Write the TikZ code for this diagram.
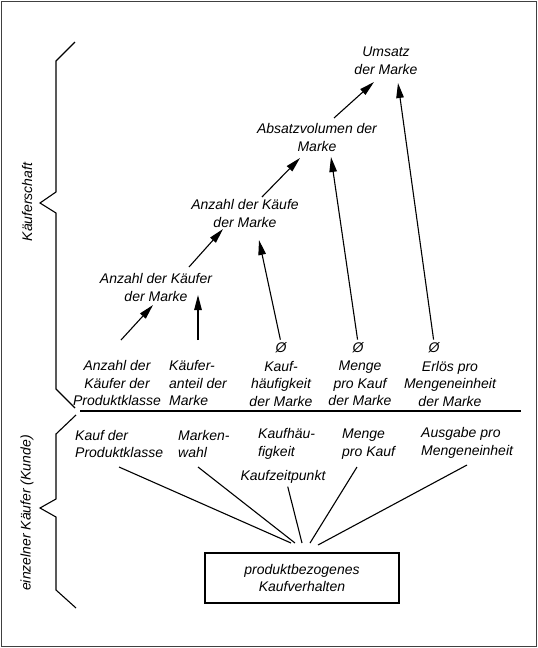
\documentclass[tikz,border=0pt]{standalone}
\usepackage{fontspec}
\setmainfont{Liberation Sans}
\usetikzlibrary{arrows.meta}
\begin{document}
\begin{tikzpicture}[x=1pt,y=-1pt,
  lbl/.style={font=\fontsize{14}{17.5}\selectfont\itshape, inner sep=0pt, align=center},
  lbll/.style={lbl, align=left, anchor=west},
  arr/.style={line width=1.1pt, -{Triangle[length=15pt,width=7.5pt]}},
  ln/.style={line width=1.1pt},
  brace/.style={line width=1.1pt, line join=miter}]
\useasboundingbox (0,0) rectangle (538,648);
\draw[line width=1.5pt, black!75] (1.5,1.5) rectangle (536.5,646.5);

% braces
\draw[brace] (75,42) -- (56,61) -- (56,192) -- (40,203) -- (56,213) -- (56,389) -- (75,408);
\draw[brace] (76,415) -- (56,434) -- (56,499) -- (40,508) -- (56,517) -- (56,590) -- (76,608);
\node[lbl, rotate=90] (lk) at (27,202) {Käuferschaft};
\node[lbl, rotate=90] (lz) at (27,513) {einzelner Käufer (Kunde)};

% divider
\draw[line width=1.5pt] (80,411) -- (521,411);

% upper hierarchy
\node[lbl] (umsatz) at (386,61) {Umsatz\\der Marke};
\node[lbl] (absatz) at (317,137.5) {Absatzvolumen der\\Marke};
\node[lbl] (kaeufe) at (245,213.5) {Anzahl der Käufe\\der Marke};
\node[lbl] (kaeufer) at (156,287.5) {Anzahl der Käufer\\der Marke};

% columns
\node[lbl] (c1) at (117,383) {Anzahl der\\Käufer der\\Produktklasse};
\node[lbll] (c2) at (169,383) {Käufer-\\anteil der\\Marke};
\node[lbl] (o3) at (281,348) {Ø};
\node[lbl] (c3) at (281,383.5) {Kauf-\\häufigkeit\\der Marke};
\node[lbl] (o4) at (358,348) {Ø};
\node[lbl] (c4) at (360,383.5) {Menge\\pro Kauf\\der Marke};
\node[lbl] (o5) at (434,348) {Ø};
\node[lbl] (c5) at (450,383.5) {Erlös pro\\Mengeneinheit\\der Marke};

% arrow coordinates
\coordinate (a1s) at (334,118); \coordinate (a1e) at (374,82);
\coordinate (a2e) at (398,83);
\coordinate (a3s) at (262,197); \coordinate (a3e) at (300,158);
\coordinate (a4e) at (331,157);
\coordinate (a5s) at (189,267); \coordinate (a5e) at (223,229);
\coordinate (a6e) at (259,240);
\coordinate (a7s) at (121,340); \coordinate (a7e) at (153,305);
\coordinate (a8s) at (198,340); \coordinate (a8e) at (198,295);

\draw[arr] (a1s) -- (a1e);
\draw[arr, shorten <=3pt] (o5.north) -- (a2e);
\draw[arr] (a3s) -- (a3e);
\draw[arr, shorten <=3pt] (o4.north) -- (a4e);
\draw[arr] (a5s) -- (a5e);
\draw[arr, shorten <=3pt] (o3.north) -- (a6e);
\draw[arr] (a7s) -- (a7e);
\draw[arr] (a8s) -- (a8e);

% lower part
\node[lbll] (k1) at (75,444) {Kauf der\\Produktklasse};
\node[lbll] (k2) at (178,444) {Marken-\\wahl};
\node[lbll] (k3) at (258,444) {Kaufhäu-\\figkeit};
\node[lbll] (k4) at (342,444) {Menge\\pro Kauf};
\node[lbll] (k5) at (421,443) {Ausgabe pro\\Mengeneinheit};
\node[lbl] (kz) at (283,477) {Kaufzeitpunkt};

\node[draw, line width=1.1pt, minimum width=194pt, minimum height=50pt,
      font=\fontsize{14}{17.5}\selectfont\itshape, align=center, inner sep=0pt]
      (box) at (302,578) {produktbezogenes\\Kaufverhalten};

\coordinate (l1s) at (119,467); \coordinate (l1e) at (291,543);
\coordinate (l2s) at (198,467); \coordinate (l2e) at (295,543);
\coordinate (l3e) at (302,543);
\coordinate (l4s) at (357,467); \coordinate (l4e) at (310,543);
\coordinate (l5s) at (467,465); \coordinate (l5e) at (318,545);
\draw[ln] (l1s) -- (l1e);
\draw[ln] (l2s) -- (l2e);
\draw[ln, shorten <=3pt] (kz.south) ++(4,0) -- (l3e);
\draw[ln] (l4s) -- (l4e);
\draw[ln] (l5s) -- (l5e);
\end{tikzpicture}
\end{document}
